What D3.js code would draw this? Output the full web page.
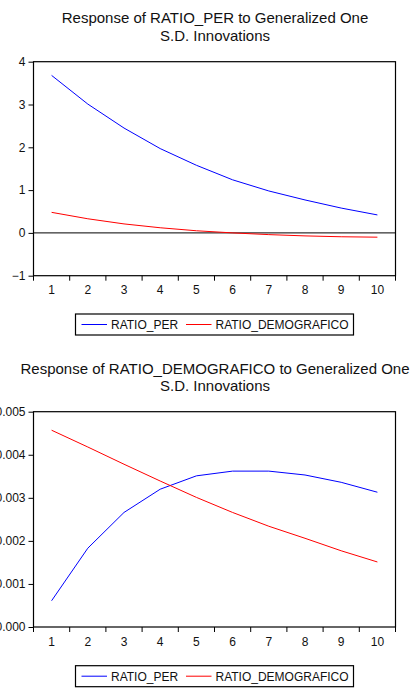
<!DOCTYPE html>
<html>
  <head>
    <meta charset="utf-8">
    <title>irf</title>
    <script type="text/javascript" src="https://cdn.jsdelivr.net/npm/d3@7"></script>
    <style type="text/css">
      body { margin: 0; background: #fff; }
      svg { display: block; }
    </style>
  </head>
  <body>
    <script type="text/javascript">
      var w = 411;
      var h = 688;

      // periods
      var periods = [1, 2, 3, 4, 5, 6, 7, 8, 9, 10];
      var seriesNames = ["RATIO_PER", "RATIO_DEMOGRAFICO"];
      var seriesColors = ["#0000ff", "#ff0000"];

      // panel 1: Response of RATIO_PER
      var perPer  = [3.68, 3.01, 2.45, 1.97, 1.58, 1.24, 0.98, 0.77, 0.58, 0.42];
      var perDemo = [0.48, 0.33, 0.21, 0.12, 0.05, 0.00, -0.04, -0.07, -0.09, -0.10];
      var yTicks1 = [-1, 0, 1, 2, 3, 4];

      // panel 2: Response of RATIO_DEMOGRAFICO
      var demoPer  = [0.00061, 0.00183, 0.00266, 0.00320, 0.00351, 0.00362, 0.00362, 0.00353, 0.00336, 0.00313];
      var demoDemo = [0.00457, 0.00418, 0.00378, 0.00339, 0.00301, 0.00266, 0.00234, 0.00206, 0.00177, 0.00151];
      var yTicks2 = [0, 0.001, 0.002, 0.003, 0.004, 0.005];

      var svg = d3.select("body")
                  .append("svg")
                  .attr("width", w)
                  .attr("height", h);

      function panel(opt) {
        var left = 33.5, right = 395.5;
        var g = svg.append("g");

        // title
        g.selectAll("text.title")
         .data(opt.title)
         .enter()
         .append("text")
         .attr("x", 215)
         .attr("y", function(d, i) { return opt.titleY + i * 17.5; })
         .attr("text-anchor", "middle")
         .attr("font-family", "Liberation Sans, Arial, sans-serif")
         .attr("font-size", "15px")
         .attr("fill", "#111")
         .text(function(d) { return d; });

        var x = d3.scaleBand().domain(periods).range([left, right]).paddingInner(0).paddingOuter(0);
        var y = d3.scaleLinear().domain(opt.domain).range([opt.bottom, opt.top]);

        // frame
        g.append("rect")
         .attr("x", left).attr("y", y(opt.domain[1]))
         .attr("width", right - left).attr("height", y(opt.domain[0]) - y(opt.domain[1]))
         .attr("fill", "none").attr("stroke", "#000").attr("stroke-width", 1.2);

        // y axis
        var yAxis = d3.axisLeft(y).tickValues(opt.yTicks).tickSize(5).tickPadding(3).tickFormat(opt.fmt);
        var ya = g.append("g").attr("transform", "translate(" + left + ",0)").call(yAxis);
        ya.select(".domain").remove();
        ya.selectAll("text").attr("font-family", "Liberation Sans, Arial, sans-serif").attr("font-size", "12px").attr("fill", "#111");

        // x ticks at band edges
        var edges = periods.map(function(p) { return x(p); }).concat([right]);
        g.selectAll("line.xt")
         .data(edges)
         .enter()
         .append("line")
         .attr("x1", function(d) { return d; }).attr("x2", function(d) { return d; })
         .attr("y1", opt.bottom).attr("y2", opt.bottom + 5)
         .attr("stroke", "#000");

        g.selectAll("text.xl")
         .data(periods)
         .enter()
         .append("text")
         .attr("x", function(d) { return x(d) + x.bandwidth() / 2; })
         .attr("y", opt.bottom + 18.5)
         .attr("text-anchor", "middle")
         .attr("font-family", "Liberation Sans, Arial, sans-serif")
         .attr("font-size", "12px")
         .attr("fill", "#111")
         .text(function(d) { return d; });

        // zero line
        if (opt.zero) {
          g.append("line")
           .attr("x1", left).attr("x2", right)
           .attr("y1", y(0)).attr("y2", y(0))
           .attr("stroke", "#000");
        }

        var line = d3.line()
                     .x(function(d, i) { return x(periods[i]) + x.bandwidth() / 2; })
                     .y(function(d) { return y(d); });

        g.selectAll("path.series")
         .data(opt.series)
         .enter()
         .append("path")
         .attr("d", function(d) { return line(d); })
         .attr("fill", "none")
         .attr("stroke", function(d, i) { return seriesColors[i]; })
         .attr("stroke-width", 1);

        // legend
        var ly = opt.legendY;
        g.append("rect")
         .attr("x", 75.5).attr("y", ly)
         .attr("width", 278).attr("height", 21)
         .attr("fill", "none").attr("stroke", "#000").attr("stroke-width", 1.2);
        var lx = [81.5, 186];
        seriesNames.forEach(function(n, i) {
          g.append("line")
           .attr("x1", lx[i]).attr("x2", lx[i] + 25.5)
           .attr("y1", ly + 10.5).attr("y2", ly + 10.5)
           .attr("stroke", seriesColors[i]);
          g.append("text")
           .attr("x", lx[i] + 29.5).attr("y", ly + 14.8)
           .attr("font-family", "Liberation Sans, Arial, sans-serif")
           .attr("font-size", "12px")
           .attr("fill", "#111")
           .text(n);
        });
      }

      panel({
        title: ["Response of RATIO_PER to Generalized One", "S.D. Innovations"],
        titleY: 23,
        domain: [-1, 4], top: 61.7, bottom: 275.7,
        yTicks: yTicks1, fmt: d3.format("d"),
        zero: true,
        series: [perPer, perDemo],
        legendY: 314
      });

      panel({
        title: ["Response of RATIO_DEMOGRAFICO to Generalized One", "S.D. Innovations"],
        titleY: 373.5,
        domain: [0, 0.005], top: 411.7, bottom: 627,
        yTicks: yTicks2, fmt: d3.format(".3f"),
        zero: false,
        series: [demoPer, demoDemo],
        legendY: 665.7
      });
    </script>
  </body>
</html>
